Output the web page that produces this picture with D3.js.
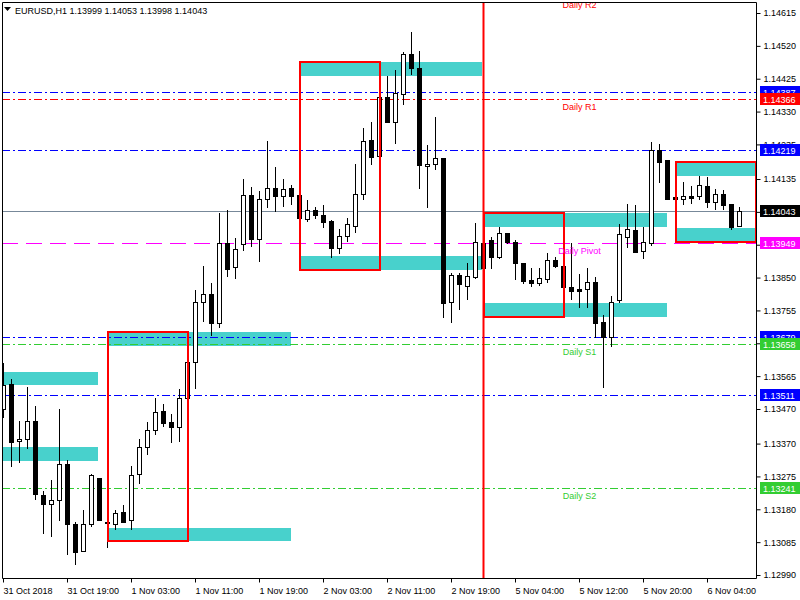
<!DOCTYPE html>
<html><head><meta charset="utf-8">
<script src="https://cdn.jsdelivr.net/npm/d3@7"></script>
<style>
body{margin:0;background:#fff}
svg{display:block}
text{font-family:"Liberation Sans",Arial,sans-serif;font-size:9px}
</style>
</head><body>
<svg id="c" width="800" height="600"></svg>
<script>
// ---------- data ----------
const symbolTitle = "EURUSD,H1  1.13999 1.14053 1.13998 1.14043";
const opens = [1.13471,1.13543,1.13378,1.13384,1.13436,1.13222,1.13196,1.13208,1.13312,1.13138,
1.13060,1.13138,1.13271,1.13144,1.13138,1.13173,1.13150,1.13283,1.13361,1.13410,
1.13465,1.13433,1.13419,1.13502,1.13606,1.13780,1.13803,1.13719,1.13950,1.13881,
1.13947,1.14089,1.13962,1.14077,1.14109,1.14086,1.14109,1.14089,1.14020,1.14046,
1.14031,1.14014,1.13936,1.13970,1.13999,1.14092,1.14248,1.14202,1.14372,1.14300,
1.14381,1.14497,1.14456,1.14173,1.14179,1.14196,1.13780,1.13858,1.13826,1.13852,
1.13950,1.13959,1.13910,1.13979,1.13953,1.13893,1.13843,1.13835,1.13846,1.13901,
1.13884,1.13823,1.13817,1.13817,1.13838,1.13722,1.13679,1.13786,1.13968,1.13988,
1.13927,1.13950,1.14219,1.14190,1.14083,1.14077,1.14086,1.14086,1.14115,1.14069,
1.14092,1.14063,1.13999];
const highs = [1.13604,1.13557,1.13436,1.13534,1.13479,1.13234,1.13265,1.13471,1.13323,1.13144,
1.13179,1.13283,1.13271,1.13144,1.13179,1.13193,1.13306,1.13384,1.13433,1.13502,
1.13485,1.13456,1.13528,1.13612,1.13814,1.13884,1.13835,1.14037,1.14046,1.13965,
1.14135,1.14112,1.14101,1.14245,1.14170,1.14135,1.14118,1.14089,1.14075,1.14054,
1.14060,1.14017,1.13991,1.14023,1.14179,1.14283,1.14300,1.14375,1.14433,1.14450,
1.14502,1.14560,1.14505,1.14233,1.14314,1.14196,1.13864,1.13864,1.13893,1.14008,
1.13959,1.13968,1.13997,1.13979,1.13959,1.13893,1.13878,1.13878,1.13921,1.13910,
1.13884,1.13950,1.13861,1.13878,1.13852,1.13742,1.13797,1.14005,1.14063,1.14060,
1.13997,1.14242,1.14236,1.14190,1.14083,1.14127,1.14115,1.14144,1.14141,1.14106,
1.14103,1.14063,1.14053];
const lows = [1.13447,1.13306,1.13317,1.13358,1.13211,1.13112,1.13104,1.13150,1.13052,1.13023,
1.13060,1.13132,1.13150,1.13072,1.13124,1.13144,1.13124,1.13257,1.13341,1.13398,
1.13421,1.13375,1.13378,1.13497,1.13531,1.13725,1.13684,1.13708,1.13855,1.13849,
1.13930,1.13942,1.13898,1.14054,1.14043,1.14057,1.14063,1.14023,1.14014,1.14023,
1.13997,1.13910,1.13921,1.13956,1.13982,1.14077,1.14179,1.14199,1.14300,1.14239,
1.14352,1.14439,1.14109,1.14054,1.14164,1.13736,1.13722,1.13760,1.13788,1.13849,
1.13872,1.13878,1.13907,1.13950,1.13846,1.13835,1.13826,1.13829,1.13838,1.13881,
1.13823,1.13788,1.13765,1.13765,1.13679,1.13534,1.13653,1.13780,1.13939,1.13924,
1.13907,1.13944,1.14127,1.14077,1.14077,1.14063,1.14066,1.14077,1.14054,1.14049,
1.14049,1.13991,1.13998];
const closes = [1.13540,1.13375,1.13384,1.13436,1.13225,1.13196,1.13208,1.13312,1.13138,1.13057,
1.13138,1.13280,1.13150,1.13141,1.13170,1.13144,1.13280,1.13361,1.13410,1.13462,
1.13430,1.13419,1.13502,1.13606,1.13780,1.13803,1.13719,1.13950,1.13875,1.13933,
1.14089,1.13962,1.14077,1.14109,1.14086,1.14106,1.14086,1.14023,1.14046,1.14031,
1.14011,1.13936,1.13970,1.14005,1.14092,1.14245,1.14199,1.14372,1.14300,1.14384,
1.14497,1.14456,1.14176,1.14179,1.14196,1.13777,1.13858,1.13832,1.13855,1.13953,
1.13878,1.13910,1.13979,1.13953,1.13893,1.13840,1.13835,1.13849,1.13901,1.13884,
1.13823,1.13812,1.13812,1.13838,1.13719,1.13679,1.13780,1.13976,1.13991,1.13924,
1.13953,1.14219,1.14184,1.14077,1.14077,1.14086,1.14080,1.14118,1.14069,1.14092,
1.14060,1.13997,1.14043];

const xTickIdx = [0,8,16,24,32,40,48,56,64,72,80,88];
const xTickLabels = ["31 Oct 2018","31 Oct 19:00","1 Nov 03:00","1 Nov 11:00","1 Nov 19:00","2 Nov 03:00",
  "2 Nov 11:00","2 Nov 19:00","5 Nov 04:00","5 Nov 12:00","5 Nov 20:00","6 Nov 04:00"];
const yTicks = [1.14615,1.14520,1.14425,1.14330,1.14235,1.14135,1.14040,1.13945,1.13850,1.13755,
  1.13660,1.13565,1.13470,1.13370,1.13275,1.13180,1.13085,1.12990];

// supply / demand zones (bar index range, price range)
const zoneStart = [-12,-12,13,13,37,37,60,60,84,84];
const zoneEnd   = [11.8,11.8,35.9,35.9,59.8,59.8,82.9,82.9,107,107];
const zoneTop   = [1.13577,1.13361,1.13127,1.13693,1.14473,1.13913,1.14037,1.13777,1.14184,1.13994];
const zoneBottom= [1.13540,1.13320,1.13089,1.13653,1.14433,1.13872,1.13997,1.13736,1.14144,1.13956];

// red range boxes
const boxStart = [13,37,60,84];
const boxEnd   = [23,47,70,94];
const boxTop   = [1.13693,1.14473,1.14037,1.14184];
const boxBottom= [1.13089,1.13872,1.13736,1.13953];

// horizontal levels
const levelPrices = [1.14661,1.14387,1.14366,1.14219,1.13949,1.13679,1.13658,1.13511,1.13241];
const levelKinds  = ["res","other","res","other","pivot","other","sup","other","sup"];
const levelTexts  = ["Daily R2","","Daily R1","","Daily Pivot","","Daily S1","","Daily S2"];
const bidPrice = 1.14043;
const sessionLineIdx = 60;
const levelTextIdx = 72;

// ---------- styles ----------
const kindColor = {res:"#ff0000", sup:"#32cd32", pivot:"#ff00ff", other:"#0000ff"};
const kindDash  = {res:"8,3,2,3", sup:"8,3,2,3", pivot:"16,8", other:"8,3,2,3"};

// ---------- drawing ----------
const W=800,H=600, L=2, T=2, R=756, B=578;
const x = d3.scaleLinear().domain([0,92]).range([3.5,739.5]);
const y = d3.scaleLinear().domain([1.12990,1.14615]).range([575,13]);
const py = p => Math.round(y(p)) + 0.5;

const svg = d3.select("#c");
svg.append("rect").attr("width",W).attr("height",H).attr("fill","#fff");
svg.append("defs").append("clipPath").attr("id","plot")
  .append("rect").attr("x",L+1).attr("y",T+1).attr("width",R-L-1).attr("height",B-T-1);
const g = svg.append("g").attr("clip-path","url(#plot)");

// zones
g.append("g").selectAll("rect").data(d3.range(zoneStart.length)).join("rect")
  .attr("x",i=>Math.round(x(zoneStart[i])))
  .attr("width",i=>Math.round(x(zoneEnd[i]))-Math.round(x(zoneStart[i])))
  .attr("y",i=>Math.round(y(zoneTop[i])))
  .attr("height",i=>Math.round(y(zoneBottom[i]))-Math.round(y(zoneTop[i])))
  .attr("fill","#48d1cc");

// level lines
g.append("g").selectAll("line").data(d3.range(levelPrices.length)).join("line")
  .attr("x1",L).attr("x2",R).attr("y1",i=>py(levelPrices[i])).attr("y2",i=>py(levelPrices[i]))
  .attr("stroke",i=>kindColor[levelKinds[i]]).attr("stroke-width",1)
  .attr("stroke-dasharray",i=>kindDash[levelKinds[i]]);

// bid line
g.append("line").attr("x1",L).attr("x2",R).attr("y1",py(bidPrice)).attr("y2",py(bidPrice))
  .attr("stroke","#778899").attr("stroke-width",1);

// candles
const idx = d3.range(opens.length);
const cg = g.append("g");
cg.selectAll("line").data(idx).join("line")
  .attr("x1",i=>x(i)).attr("x2",i=>x(i))
  .attr("y1",i=>Math.round(y(highs[i]))).attr("y2",i=>Math.round(y(lows[i]))+1)
  .attr("stroke","#000").attr("stroke-width",1);
cg.selectAll("rect.b").data(idx).join("rect").attr("class","b")
  .each(function(i){
    const up = closes[i] > opens[i];
    const yt = Math.round(y(Math.max(opens[i],closes[i])));
    const yb = Math.round(y(Math.min(opens[i],closes[i])));
    const s = d3.select(this);
    if(up){
      s.attr("x",x(i)-2).attr("y",yt+0.5).attr("width",4).attr("height",Math.max(yb-yt,1))
       .attr("fill","#fff").attr("stroke","#000").attr("stroke-width",1);
    } else {
      s.attr("x",x(i)-2.5).attr("y",yt).attr("width",5).attr("height",Math.max(yb-yt+1,2))
       .attr("fill","#000");
    }
  });

// red boxes
g.append("g").selectAll("rect").data(d3.range(boxStart.length)).join("rect")
  .attr("x",i=>Math.round(x(boxStart[i])))
  .attr("width",i=>Math.round(x(boxEnd[i]))-Math.round(x(boxStart[i])))
  .attr("y",i=>Math.round(y(boxTop[i])))
  .attr("height",i=>Math.round(y(boxBottom[i]))-Math.round(y(boxTop[i])))
  .attr("fill","none").attr("stroke","#ff0000").attr("stroke-width",2);

// session vertical line
g.append("line").attr("x1",Math.round(x(sessionLineIdx))-0.5).attr("x2",Math.round(x(sessionLineIdx))-0.5)
  .attr("y1",T).attr("y2",B+2).attr("stroke","#ff0000").attr("stroke-width",2);

// level texts
g.append("g").selectAll("text").data(d3.range(levelPrices.length).filter(i=>levelTexts[i])).join("text")
  .attr("x",x(levelTextIdx)).attr("y",i=>Math.round(y(levelPrices[i]))+11)
  .attr("text-anchor","middle").attr("fill",i=>kindColor[levelKinds[i]])
  .attr("font-size",9.5)
  .text(i=>levelTexts[i]);

// frame
svg.append("path").attr("d",`M${L+0.5},${B+0.5}V${T+0.5}H${R+0.5}V${B+0.5}H${L+0.5}`)
  .attr("fill","none").attr("stroke","#000").attr("stroke-width",1);

// right axis
const ya = svg.append("g").attr("transform",`translate(${R+0.5},0)`)
  .call(d3.axisRight(y).tickValues(yTicks).tickFormat(d=>d.toFixed(5)).tickSize(4).tickPadding(3).tickSizeOuter(0));
ya.select(".domain").remove();
ya.selectAll("text").attr("font-family","Liberation Sans, Arial, sans-serif").attr("font-size",9).attr("fill","#000");

// bottom axis
const xa = svg.append("g").attr("transform",`translate(0,${B+0.5})`)
  .call(d3.axisBottom(x).tickValues(xTickIdx).tickFormat((d,i)=>xTickLabels[i]).tickSize(4).tickSizeOuter(0).offset(0));
xa.select(".domain").remove();
xa.selectAll("text").attr("text-anchor","start").attr("x",0).attr("y",9)
  .attr("font-family","Liberation Sans, Arial, sans-serif").attr("font-size",9).attr("fill","#000");

// price labels on axis
const lblIdx = d3.range(levelPrices.length).filter(i=>y(levelPrices[i])>T);
const pl = svg.append("g");
const addLabel = (p,bg) => {
  const yy = Math.round(y(p));
  pl.append("rect").attr("x",R+4).attr("y",yy-6).attr("width",W-R-4).attr("height",12).attr("fill",bg);
  pl.append("text").attr("x",R+7).attr("y",yy+3.5).attr("fill","#fff").text(p.toFixed(5));
};
lblIdx.forEach(i=>addLabel(levelPrices[i], kindColor[levelKinds[i]]));
addLabel(bidPrice,"#000");

// title
svg.append("path").attr("d","M4,7H11L7.5,11Z").attr("fill","#000");
svg.append("text").attr("x",15).attr("y",14).attr("fill","#000").attr("font-size",9.4).text(symbolTitle);
</script>
</body></html>
